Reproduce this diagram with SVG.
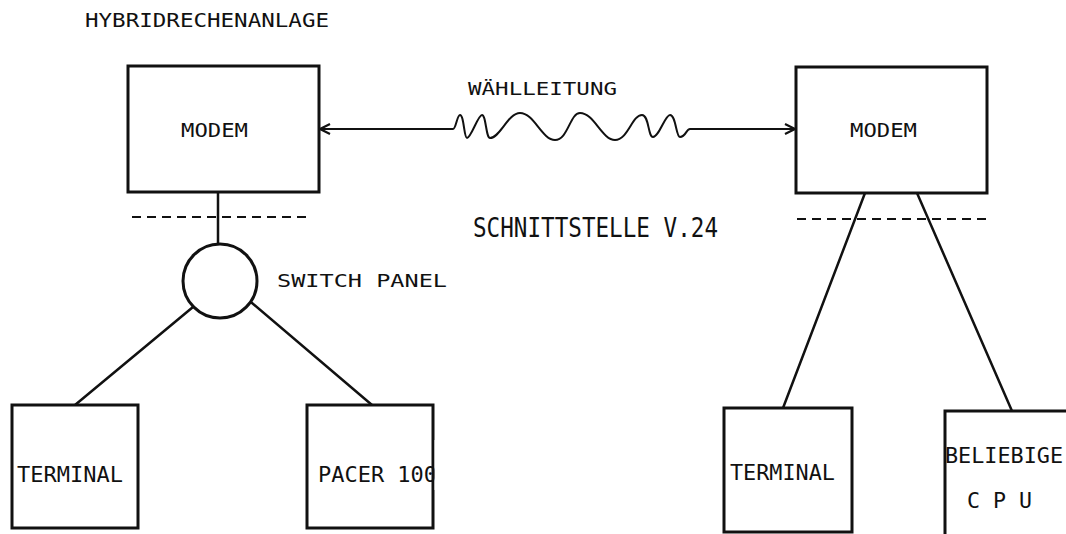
<svg xmlns="http://www.w3.org/2000/svg" width="1066" height="534" viewBox="0 0 1066 534">
<defs>
<style>
.box{fill:#fff;stroke:#111;stroke-width:3}
.ln{fill:none;stroke:#111;stroke-width:2.5;stroke-linecap:round}
.wv{fill:none;stroke:#111;stroke-width:2;stroke-linecap:round}
.dash{fill:none;stroke:#111;stroke-width:2;stroke-dasharray:9 6}
.t{font-family:"DejaVu Sans Mono","Liberation Mono",monospace;fill:#111}
</style>
<marker id="ah" viewBox="0 0 12 12" refX="11" refY="6" markerWidth="12" markerHeight="12" markerUnits="userSpaceOnUse" orient="auto-start-reverse">
<path d="M1,1 L11,6 L1,11" fill="none" stroke="#111" stroke-width="2.2"/>
</marker>
</defs>
<rect width="1066" height="534" fill="#fff"/>
<text class="t" x="85" y="27" textLength="244" lengthAdjust="spacingAndGlyphs" style="font-size:20px">HYBRIDRECHENANLAGE</text>
<g id="connectors">
<path class="wv" d="M320,129 L453,129 C456,129 457,115 460,115 C464,115 464,138 467,138 C471,138 478,115 482,115 C486,115 486,138 490,138 C500,138 508,113 520,113 C534,113 542,140 555,140 C568,140 570,113 580,113 C594,113 602,140 615,140 C628,140 632,115 642,115 C649,115 648,137 653,137 C659,137 665,115 670,115 C676,115 676,137 680,137 C686,137 686,129 690,129 L795,129" marker-start="url(#ah)" marker-end="url(#ah)"/>
<line class="ln" x1="218" y1="192" x2="218" y2="244"/>
<line class="ln" x1="193" y1="307" x2="75" y2="405"/>
<line class="ln" x1="252" y1="303" x2="372" y2="405"/>
<line class="ln" x1="865" y1="193" x2="783" y2="408"/>
<line class="ln" x1="917" y1="193" x2="1012" y2="411"/>
<line class="dash" x1="132" y1="217" x2="311" y2="217"/>
<line class="dash" x1="797" y1="219" x2="987" y2="219"/>
</g>
<text class="t" x="468" y="95" textLength="149" lengthAdjust="spacingAndGlyphs" style="font-size:18px">WÄHLLEITUNG</text>
<text class="t" x="473" y="237" textLength="245" lengthAdjust="spacingAndGlyphs" style="font-size:27px">SCHNITTSTELLE V.24</text>
<g id="modem-left">
<rect class="box" x="128" y="66" width="191" height="126"/>
<text class="t" x="181" y="137" textLength="67" lengthAdjust="spacingAndGlyphs" style="font-size:19px">MODEM</text>
</g>
<g id="modem-right">
<rect class="box" x="796" y="67" width="191" height="126"/>
<text class="t" x="850" y="137" textLength="67" lengthAdjust="spacingAndGlyphs" style="font-size:19px">MODEM</text>
</g>
<g id="switch-panel">
<circle class="box" cx="220" cy="281" r="37"/>
<text class="t" x="277" y="287" textLength="170" lengthAdjust="spacingAndGlyphs" style="font-size:17px">SWITCH PANEL</text>
</g>
<g id="terminal-left">
<rect class="box" x="12" y="405" width="126" height="123"/>
<text class="t" x="17" y="482" textLength="106" lengthAdjust="spacingAndGlyphs" style="font-size:22px">TERMINAL</text>
</g>
<g id="pacer">
<rect class="box" x="307" y="405" width="126" height="123"/>
<text class="t" x="318" y="482" textLength="119" lengthAdjust="spacingAndGlyphs" style="font-size:22px">PACER 100</text>
<rect x="434.6" y="440" width="6" height="50" fill="#fff"/>
</g>
<g id="terminal-right">
<rect class="box" x="724" y="408" width="128" height="124"/>
<text class="t" x="730" y="480" textLength="105" lengthAdjust="spacingAndGlyphs" style="font-size:22px">TERMINAL</text>
</g>
<g id="cpu">
<path class="box" d="M1070,411 L945,411 L945,540"/>
<text class="t" x="945" y="463" textLength="118" lengthAdjust="spacingAndGlyphs" style="font-size:21px">BELIEBIGE</text>
<text class="t" x="967" y="508" textLength="65" lengthAdjust="spacingAndGlyphs" style="font-size:21px">C P U</text>
</g>
</svg>
